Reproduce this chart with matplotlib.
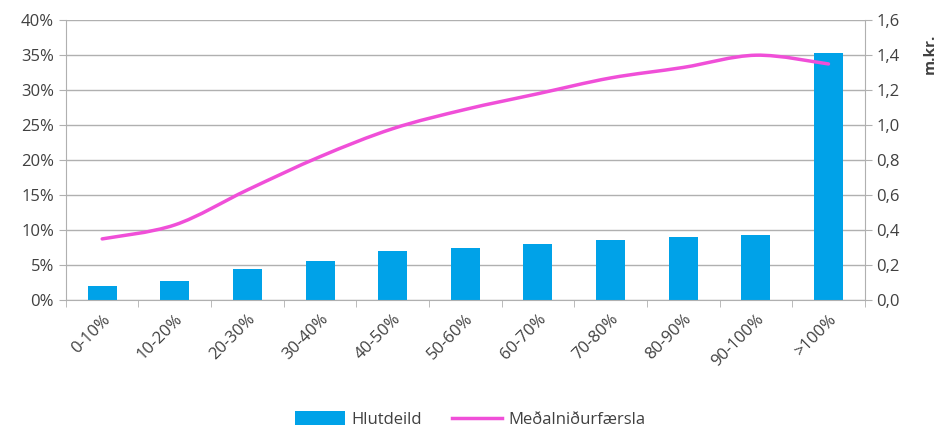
import matplotlib
matplotlib.use("Agg")
import matplotlib.pyplot as plt
from matplotlib.ticker import FuncFormatter, MultipleLocator
from matplotlib.path import Path
from matplotlib.patches import PathPatch
from matplotlib.lines import Line2D
import numpy as np

categories = ["0-10%", "10-20%", "20-30%", "30-40%", "40-50%", "50-60%",
              "60-70%", "70-80%", "80-90%", "90-100%", ">100%"]
hlutdeild = [2.0, 2.8, 4.5, 5.6, 7.0, 7.4, 8.0, 8.6, 9.0, 9.3, 35.3]
medal = [0.35, 0.43, 0.63, 0.82, 0.98, 1.09, 1.18, 1.27, 1.33, 1.40, 1.35]

plt.rcParams['font.family'] = ['Open Sans', 'DejaVu Sans']
txt = '#404040'
grid = '#b0b0b0'
pink = '#F04FD8'

fig = plt.figure(figsize=(9.41, 4.30), dpi=100)
ax = fig.add_axes([0.070, 0.302, 0.849, 0.651])
ax2 = ax.twinx()

x = np.arange(len(categories))
bars = ax.bar(x, hlutdeild, width=0.40, color='#00A2E8', label='Hlutdeild', zorder=2)

# smoothed line (Excel-style) through the data points using Bezier segments
pts = np.column_stack([x, medal]).astype(float)
verts = [tuple(pts[0])]
codes = [Path.MOVETO]
n = len(pts)
for i in range(n - 1):
    p0 = pts[i - 1] if i > 0 else pts[i]
    p1 = pts[i]
    p2 = pts[i + 1]
    p3 = pts[i + 2] if i + 2 < n else pts[i + 1]
    c1 = p1 + (p2 - p0) / 6.0
    c2 = p2 - (p3 - p1) / 6.0
    verts += [tuple(c1), tuple(c2), tuple(p2)]
    codes += [Path.CURVE4] * 3
ax2.add_patch(PathPatch(Path(verts, codes), facecolor='none', edgecolor=pink,
                        lw=2.5, zorder=3, capstyle='round'))
line = Line2D([], [], color=pink, lw=2.5)

ax.set_xlim(-0.5, len(categories) - 0.5)
ax.set_ylim(0, 40)
ax2.set_ylim(0, 1.6)
ax.yaxis.set_major_locator(MultipleLocator(5))
ax2.yaxis.set_major_locator(MultipleLocator(0.2))
ax.yaxis.set_major_formatter(FuncFormatter(lambda v, p: f"{v:.0f}%"))
ax2.yaxis.set_major_formatter(FuncFormatter(lambda v, p: f"{v:.1f}".replace('.', ',')))

ax.grid(axis='y', color=grid, lw=1, zorder=0)
ax.set_axisbelow(True)

for a in (ax, ax2):
    a.spines['top'].set_visible(False)
    a.spines['left'].set_color(grid)
    a.spines['right'].set_color(grid)
    a.spines['bottom'].set_color(grid)
ax.spines['right'].set_visible(False)
ax2.spines['left'].set_visible(False)
ax2.spines['bottom'].set_visible(False)

ax.set_xticks(x)
ax.set_xticklabels(categories, rotation=45, ha='right', rotation_mode='anchor',
                   fontsize=12, color=txt)
ax.set_xticks(np.arange(-0.5, len(categories) + 0.5, 1), minor=True)
ax.tick_params(axis='x', which='major', length=0, pad=8)
ax.tick_params(axis='x', which='minor', length=5, color=grid)
ax.tick_params(axis='y', length=5, color=grid, labelsize=12, labelcolor=txt)
ax2.tick_params(axis='y', length=5, color=grid, labelsize=12, labelcolor=txt)

ax2.set_ylabel('m.kr.', fontsize=11, color=txt, fontweight='bold')
ax2.yaxis.set_label_coords(1.072, 0.88)
ax2.yaxis.label.set_va('top')

fig.legend(handles=[bars, line], labels=['Hlutdeild', 'Meðalniðurfærsla'],
           loc='lower center', bbox_to_anchor=(0.5, -0.03), ncol=2, frameon=False,
           fontsize=12, labelcolor=txt, handlelength=3.0, columnspacing=1.8,
           handletextpad=0.4, handleheight=0.9)

fig.savefig('out.png', dpi=100, facecolor='white')
